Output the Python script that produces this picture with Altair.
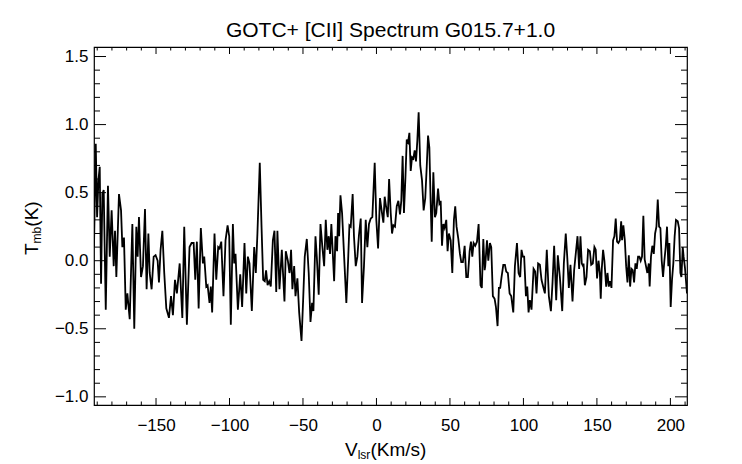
import altair as alt
import pandas as pd

# ---- spectrum values (velocity km/s, Tmb K) ----
v1 = [-192.2, -191.0, -190.1, -189.2, -188.3, -187.4, -186.5, -185.6, -184.2, -182.7,
      -181.5, -180.2, -178.8, -177.9, -177.0, -175.2, -173.8, -172.9, -171.8, -170.6,
      -169.5, -167.9, -166.1, -164.8, -163.4, -162.5, -161.6, -160.2, -158.9, -157.5,
      -156.4, -155.2, -154.3, -153.0, -151.6, -150.3, -148.9, -148.0, -146.9, -145.7,
      -144.4, -143.0, -141.2, -139.8, -138.5, -137.1, -135.8, -133.9, -132.1, -130.8,
      -129.0, -127.2, -125.8]
t1 = [0.10, 0.86, 0.32, 0.59, 0.69, -0.17, 0.49, 0.52, -0.36, 0.55,
      0.03, 0.37, -0.04, 0.22, -0.12, 0.49, 0.37, 0.10, 0.17, -0.36,
      -0.24, -0.43, 0.27, -0.50, 0.25, 0.03, 0.32, -0.12, -0.04, 0.38,
      -0.21, 0.20, -0.09, -0.21, 0.03, 0.04, 0.00, -0.16, 0.08, 0.22,
      -0.09, -0.35, -0.42, -0.26, -0.40, -0.14, -0.24, -0.02, -0.42, 0.25,
      -0.47, 0.10, 0.13]

v2 = [-124.4, -123.3, -122.2, -121.0, -119.5, -118.1, -117.2, -115.8, -114.9, -113.6,
      -112.7, -111.8, -110.2, -109.0, -107.7, -106.8, -105.6, -104.1, -102.7, -101.3,
      -100.2, -99.1, -97.7, -96.8, -95.9, -94.3, -92.7, -91.4, -89.8, -88.6,
      -87.5, -86.4, -84.8, -83.2, -82.1, -81.0, -79.4, -78.2, -77.1, -76.0,
      -75.1, -74.1, -73.0, -71.9, -70.5, -69.4, -68.2, -67.4, -66.0, -64.4,
      -62.6, -61.7, -60.3, -59.2]
t2 = [0.13, -0.14, 0.14, -0.35, 0.24, -0.02, 0.03, -0.19, -0.18, -0.31,
      -0.19, -0.38, 0.20, -0.14, 0.10, 0.09, 0.14, -0.26, 0.15, 0.26,
      0.18, -0.47, 0.27, -0.02, 0.05, -0.36, -0.10, -0.34, 0.13, -0.24,
      0.03, -0.02, -0.37, 0.10, -0.09, 0.20, 0.72, 0.25, -0.14, -0.15,
      -0.07, -0.18, -0.15, -0.19, 0.15, 0.22, -0.23, 0.22, -0.21, 0.08,
      -0.30, 0.07, 0.00, -0.09]

v3 = [-59.0, -58.1, -57.2, -56.0, -55.1, -53.8, -52.6, -51.0, -49.9, -48.8,
      -47.4, -46.1, -44.9, -43.8, -42.9, -41.5, -40.6, -39.3, -38.1, -36.8,
      -35.6, -34.5, -33.4, -32.5, -31.6, -30.7, -29.7, -28.8, -27.9, -26.8,
      -26.1, -25.4, -24.5, -23.4, -22.0, -20.5, -19.3, -18.4, -17.5, -16.2,
      -15.3, -14.1, -13.0, -11.9, -10.7, -9.8, -8.5, -7.3, -6.2, -5.1,
      -3.9, -2.8, -1.2, -0.1, 1.1, 2.4, 3.5, 4.7, 5.6, 6.5]
t3 = [-0.08, 0.08, -0.21, -0.04, -0.26, -0.13, -0.38, -0.59, -0.29, 0.03,
      0.16, -0.09, -0.45, -0.31, -0.37, 0.18, 0.03, -0.25, 0.27, 0.10,
      -0.04, 0.30, 0.08, 0.18, 0.05, 0.27, 0.05, -0.15, 0.18, 0.07,
      0.35, 0.18, 0.48, 0.35, 0.03, -0.31, 0.00, 0.26, 0.25, 0.49,
      0.18, -0.04, 0.03, 0.19, 0.31, -0.31, -0.04, 0.30, 0.10, 0.27,
      0.31, 0.32, 0.72, 0.30, 0.09, 0.46, 0.37, 0.28, 0.47, 0.40]

v4 = [7.7, 8.6, 9.7, 10.6, 11.5, 12.6, 13.8, 14.9, 16.0, 16.9,
      17.8, 18.7, 19.7, 20.6, 21.5, 22.4, 23.3, 24.2, 25.1, 26.0,
      26.9, 27.8, 28.7, 29.8, 31.0, 32.1, 33.2, 34.2, 35.1, 36.0,
      36.9, 37.6, 38.7, 39.8, 40.7, 41.9, 42.8, 43.7, 44.6, 45.5,
      46.4, 47.5, 48.4, 49.3, 50.5, 51.6, 52.7, 53.6, 54.5, 55.7,
      56.8, 57.7, 58.8, 60.0, 61.1, 62.2, 63.4, 64.3, 65.2, 66.1,
      67.2, 68.4, 69.5, 70.8, 71.7, 72.7, 73.6]
t4 = [0.32, 0.60, 0.35, 0.20, 0.26, 0.25, 0.40, 0.44, 0.34, 0.44,
      0.77, 0.35, 0.61, 0.89, 0.87, 0.94, 0.66, 0.76, 0.75, 0.81,
      0.73, 0.88, 1.09, 0.70, 0.59, 0.37, 0.46, 0.69, 0.92, 0.83,
      0.42, 0.14, 0.65, 0.32, 0.35, 0.53, 0.42, 0.44, 0.11, 0.27,
      0.24, 0.30, 0.07, 0.20, 0.15, -0.09, 0.30, 0.40, 0.25, 0.16,
      0.05, -0.01, -0.01, 0.11, -0.12, -0.12, 0.07, 0.14, 0.03, 0.13,
      0.11, 0.14, 0.27, -0.18, -0.20, 0.16, -0.07]

v5 = [74.0, 75.2, 76.1, 77.2, 78.1, 79.2, 80.4, 81.3, 82.4, 83.3,
      84.2, 85.1, 86.3, 87.4, 88.3, 89.4, 90.6, 91.7, 93.1, 94.2,
      95.6, 96.7, 97.8, 98.7, 99.6, 100.5, 101.7, 102.6, 103.5, 104.4,
      105.5, 106.9, 108.0, 108.9, 110.0, 111.2, 112.3, 113.4, 114.6, 115.9,
      117.3, 118.7, 119.8, 120.9, 122.3, 123.4, 124.8, 126.4, 127.5, 128.8,
      129.8, 130.9, 132.0, 133.4, 134.5, 135.6, 136.8, 137.9, 138.8, 139.7,
      140.6]
t5 = [-0.04, 0.15, 0.00, 0.13, 0.10, -0.26, -0.28, -0.34, -0.48, -0.20,
      -0.20, -0.12, -0.03, -0.03, -0.08, -0.09, -0.24, -0.26, -0.38, -0.04,
      0.13, -0.09, -0.12, 0.08, 0.03, 0.03, -0.26, -0.19, -0.38, -0.29,
      -0.36, -0.06, -0.08, -0.24, -0.02, -0.03, -0.14, -0.19, -0.24, 0.08,
      -0.26, -0.37, -0.16, 0.11, -0.29, 0.04, -0.12, -0.37, -0.02, 0.20,
      0.03, -0.20, -0.03, -0.30, -0.07, 0.05, 0.18, -0.06, 0.18, -0.02,
      -0.04]

v6 = [140.9, 141.8, 142.9, 144.0, 145.2, 146.1, 147.2, 148.3, 149.2, 150.1,
      151.1, 152.0, 152.6, 153.3, 154.2, 155.1, 156.3, 157.2, 158.1, 159.0,
      159.9, 161.0, 161.9, 162.8, 163.7, 164.6, 165.6, 166.5, 167.1, 168.0,
      169.0, 169.9, 170.8, 171.7, 172.6, 173.5, 174.4, 175.3, 176.2, 177.1,
      178.0, 178.9, 179.8, 180.7, 181.6, 182.5, 183.4, 184.3, 185.3, 185.9,
      186.8, 187.7, 188.7, 189.6, 190.5, 191.4, 192.3, 193.2, 194.1, 195.0,
      195.9, 196.8, 197.7, 198.6, 199.3, 200.2, 201.1, 202.0, 202.9, 203.8,
      205.0, 205.9, 206.8, 207.5, 208.4, 209.0, 209.9, 211.3]
t6 = [-0.02, -0.18, -0.12, 0.08, 0.07, -0.03, -0.02, 0.10, 0.08, -0.13,
      0.00, -0.09, -0.28, -0.06, 0.08, 0.00, -0.19, -0.09, -0.19, -0.15,
      -0.20, 0.15, 0.18, 0.31, 0.14, 0.13, 0.15, 0.29, 0.15, 0.26,
      0.15, -0.04, -0.16, 0.04, -0.19, -0.06, -0.07, -0.16, -0.02, -0.06,
      0.03, 0.03, 0.00, 0.03, 0.33, 0.01, -0.04, -0.09, -0.02, -0.19,
      0.03, 0.11, 0.05, 0.20, 0.25, 0.45, 0.25, 0.24, 0.00, -0.12,
      0.00, 0.10, 0.25, -0.04, 0.13, -0.34, -0.14, -0.02, 0.18, 0.30,
      0.29, 0.24, -0.09, -0.12, 0.10, 0.03, -0.05, -0.24]

# ---- axis ticks ----
x_major = [-150, -100, -50, 0, 50, 100, 150, 200]
x_minor = [-190, -180, -170, -160, -140, -130, -120, -110, -90, -80, -70, -60,
           -40, -30, -20, -10, 10, 20, 30, 40, 60, 70, 80, 90, 110, 120, 130,
           140, 160, 170, 180, 190, 210]
y_major = [-1.0, -0.5, 0.0, 0.5, 1.0, 1.5]
y_minor = [-0.9, -0.8, -0.7, -0.6, -0.4, -0.3, -0.2, -0.1, 0.1, 0.2, 0.3, 0.4,
           0.6, 0.7, 0.8, 0.9, 1.1, 1.2, 1.3, 1.4]

X_DOMAIN = [-192.2, 211.3]
Y_DOMAIN = [-1.06, 1.57]
W, H = 593, 358
FONT = "Liberation Sans"

velocity, tmb = [], []
for vs, ts in [(v1, t1), (v2, t2), (v3, t3), (v4, t4), (v5, t5), (v6, t6)]:
    n = min(len(vs), len(ts))
    velocity += vs[:n]
    tmb += ts[:n]
spec = pd.DataFrame({"v": velocity, "t": tmb})

xs = alt.Scale(domain=X_DOMAIN, nice=False, zero=False)
ys = alt.Scale(domain=Y_DOMAIN, nice=False, zero=False)

x_axis = alt.Axis(values=x_major, format="d", title=None, ticks=False,
                  domain=False, grid=False, labelFontSize=17, labelFont=FONT,
                  labelPadding=12, labelColor="black", labelFlush=False)
y_axis = alt.Axis(values=y_major, format=".1f", title=None, ticks=False,
                  domain=False, grid=False, labelFontSize=17, labelFont=FONT,
                  labelPadding=6, labelColor="black", labelFlush=False)

line = alt.Chart(spec).mark_line(color="black", strokeWidth=1.8, clip=True).encode(
    x=alt.X("v:Q", scale=xs, axis=x_axis),
    y=alt.Y("t:Q", scale=ys, axis=y_axis),
    order="v:Q",
)


def xticks(vals, length, top):
    df = pd.DataFrame({"v": vals})
    if top:
        yy, yy2 = alt.value(0), alt.value(length)
    else:
        yy, yy2 = alt.value(H), alt.value(H - length)
    return alt.Chart(df).mark_rule(color="black", strokeWidth=1).encode(
        x=alt.X("v:Q", scale=xs, axis=x_axis), y=yy, y2=yy2)


def yticks(vals, length, right):
    df = pd.DataFrame({"t": vals})
    if right:
        xx, xx2 = alt.value(W), alt.value(W - length)
    else:
        xx, xx2 = alt.value(0), alt.value(length)
    return alt.Chart(df).mark_rule(color="black", strokeWidth=1).encode(
        y=alt.Y("t:Q", scale=ys, axis=y_axis), x=xx, x2=xx2)


one = pd.DataFrame({"a": [0]})


def label(text, x, y, size, angle=0):
    return alt.Chart(one).mark_text(
        text=text, font=FONT, fontSize=size, color="black", align="left",
        baseline="alphabetic", angle=angle).encode(x=alt.value(x), y=alt.value(y))


title = alt.Chart(one).mark_text(
    text="GOTC+ [CII] Spectrum G015.7+1.0", font=FONT, fontSize=21, color="black",
    align="center", baseline="alphabetic").encode(x=alt.value(W / 2), y=alt.value(-10))

xt = 251
xtitle = [label("V", xt, 409, 19),
          label("lsr", xt + 12.7, 412, 12),
          label("(Km/s)", xt + 25.4, 409, 19)]
yb = 208
ytitle = [label("T", -56, yb, 19, 270),
          label("mb", -53, yb - 11.6, 12, 270),
          label("(K)", -56, yb - 28.3, 19, 270)]

layers = [line,
          xticks(x_major, 7, False), xticks(x_minor, 3.5, False),
          xticks(x_major, 7, True), xticks(x_minor, 3.5, True),
          yticks(y_major, 12, False), yticks(y_minor, 6, False),
          yticks(y_major, 12, True), yticks(y_minor, 6, True),
          title] + xtitle + ytitle

chart = alt.layer(*layers).properties(
    width=W, height=H,
    padding={"left": 86, "top": 39, "right": 40, "bottom": 56},
    autosize=alt.AutoSizeParams(type="none"),
    background="white",
).configure_view(stroke="black", strokeWidth=1.2)

chart.save("out.html", embed_options={"renderer": "svg", "actions": False})
